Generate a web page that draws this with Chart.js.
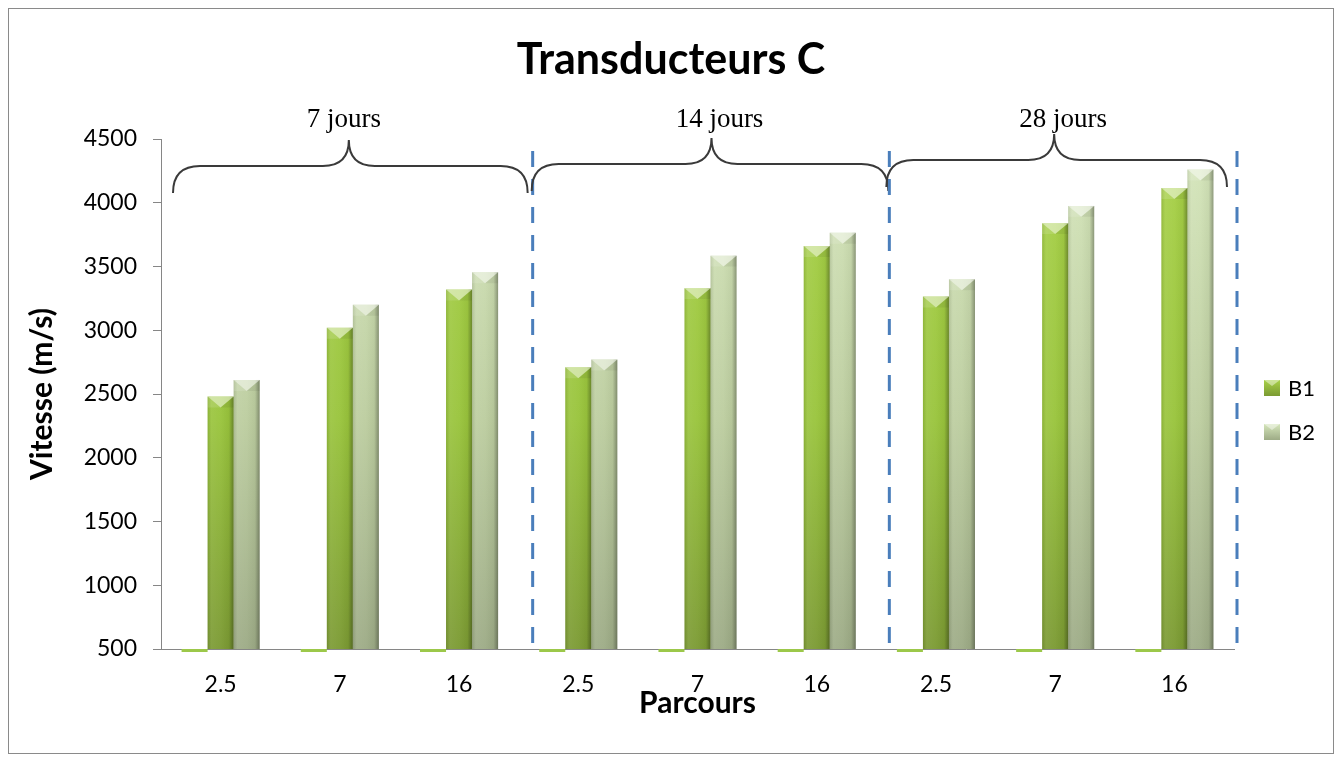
<!DOCTYPE html>
<html><head><meta charset="utf-8">
<script src="https://cdn.jsdelivr.net/npm/chart.js@4.4.1/dist/chart.umd.min.js"></script>
<style>html,body{margin:0;padding:0;background:#fff;}#wrap{position:relative;width:1342px;height:762px;}</style>
</head><body><div id="wrap"><canvas id="c" width="1342" height="762"></canvas></div>
<script>
// ---- data ----
const categories = ['2.5','7','16','2.5','7','16','2.5','7','16'];
const groupLabels = ['7 jours','14 jours','28 jours'];
const chartTitle = 'Transducteurs C';
const seriesNames = ['B1','B2'];
const seriesB1 = [2480,3020,3320,2710,3330,3660,3265,3840,4115];
const seriesB2 = [2610,3200,3455,2770,3585,3765,3400,3975,4260];
const seriesBase = [500,500,500,500,500,500,500,500,500]; // unnamed series sitting at the axis minimum
const yMin = 500, yMax = 4500, yStep = 500;

// ---- styles ----
const FONT = 'Lato, "Open Sans", sans-serif';
const palette = {
  B1: {top:'#a8d148', mid:'#99c43c', bottom:'#7b9a33'},
  B2: {top:'#d5e6bb', mid:'#bccd9f', bottom:'#9dab86'},
  base: '#9cc84a'
};
function vgrad(p){
  return function(ctx){
    const ch = ctx.chart; const a = ch.chartArea;
    if(!a) return p.mid;
    const g = ch.ctx.createLinearGradient(0,a.top,0,a.bottom);
    g.addColorStop(0,p.top); g.addColorStop(0.55,p.mid); g.addColorStop(1,p.bottom);
    return g;
  };
}

const framePlugin = {
  id:'frame',
  beforeDraw(chart){
    const c = chart.ctx; c.save();
    c.fillStyle='#fff'; c.fillRect(0,0,chart.width,chart.height);
    c.strokeStyle='#8a8a8a'; c.lineWidth=1;
    c.strokeRect(8.5,8.5,chart.width-17,chart.height-17);
    c.fillStyle='#000'; c.font='bold 43px '+FONT; c.textAlign='center'; c.textBaseline='alphabetic';
    c.fillText(chartTitle, chart.width/2, 74);
    c.restore();
  }
};

const bevelPlugin = {
  id:'bevel',
  afterDatasetsDraw(chart){
    const c = chart.ctx, a = chart.chartArea;
    [1,2].forEach(di=>{
      const meta = chart.getDatasetMeta(di);
      if(meta.hidden) return;
      meta.data.forEach(bar=>{
        const p = bar.getProps(['x','y','width'],true);
        const x = p.x, y = p.y, width = p.width, base = a.bottom;
        const l = x-width/2, r = x+width/2, h = base-y;
        c.save();
        const g = c.createLinearGradient(l,0,r,0);
        g.addColorStop(0,'rgba(0,0,0,0.10)');
        g.addColorStop(0.15,'rgba(255,255,255,0.08)');
        g.addColorStop(0.5,'rgba(255,255,255,0.04)');
        g.addColorStop(0.82,'rgba(0,0,0,0.04)');
        g.addColorStop(1,'rgba(0,0,0,0.32)');
        c.fillStyle=g; c.fillRect(l,y,width,h);
        const bh = Math.min(width*0.42,h);
        c.beginPath(); c.moveTo(l,y); c.lineTo(r,y); c.lineTo(x,y+bh); c.closePath();
        c.fillStyle='rgba(255,255,255,0.5)'; c.fill();
        c.beginPath(); c.moveTo(l,y); c.lineTo(x,y+bh); c.lineTo(l,y+bh); c.closePath();
        c.fillStyle='rgba(255,255,255,0.12)'; c.fill();
        c.beginPath(); c.moveTo(r,y); c.lineTo(x,y+bh); c.lineTo(r,y+bh); c.closePath();
        c.fillStyle='rgba(0,0,0,0.06)'; c.fill();
        c.restore();
      });
    });
  }
};

function drawBrace(c, x0, x1, xm, yb, rEnd, rMid){
  c.beginPath();
  c.moveTo(x0, yb+rEnd);
  c.quadraticCurveTo(x0, yb, x0+rEnd, yb);
  c.lineTo(xm-rMid, yb);
  c.quadraticCurveTo(xm, yb, xm, yb-rMid);
  c.quadraticCurveTo(xm, yb, xm+rMid, yb);
  c.lineTo(x1-rEnd, yb);
  c.quadraticCurveTo(x1, yb, x1, yb+rEnd);
  c.stroke();
}

const groupPlugin = {
  id:'groups',
  afterDraw(chart){
    const c = chart.ctx, xs = chart.scales.x, a = chart.chartArea;
    const half = (xs.getPixelForValue(1)-xs.getPixelForValue(0))/2;
    const per = categories.length/groupLabels.length;
    // hand-placed annotation offsets (px) relative to each group
    const look = [
      {bl:12, br:9,  pk:9,  yb:166, div:14, tx:4},
      {bl:13, br:12, pk:14, yb:164, div:13, tx:22},
      {bl:10, br:-7, pk:-1, yb:160, div:3,  tx:8}
    ];
    groupLabels.forEach((lab,g)=>{
      const L = xs.getPixelForValue(g*per)-half;
      const R = xs.getPixelForValue(g*per+per-1)+half;
      const C = (L+R)/2, o = look[g];
      c.save();
      c.strokeStyle='#3a3a3a'; c.lineWidth=2;
      drawBrace(c, L+o.bl, R+o.br, C+o.pk, o.yb, 27, 26);
      c.restore();
      c.save();
      c.fillStyle='#000'; c.font='27px "Liberation Serif", "DejaVu Serif", serif';
      c.textAlign='center'; c.textBaseline='alphabetic';
      c.fillText(lab, C+o.tx, 127);
      c.restore();
      c.save();
      c.strokeStyle='#4a7ebb'; c.lineWidth=3; c.setLineDash([16,12]);
      c.beginPath(); c.moveTo(R+o.div, 151); c.lineTo(R+o.div, a.bottom); c.stroke();
      c.restore();
    });
  }
};

const legendPlugin = {
  id:'customLegend',
  afterDraw(chart){
    const c = chart.ctx, a = chart.chartArea;
    const pals = [palette.B1, palette.B2];
    seriesNames.forEach((n,i)=>{
      const yc = 388 + i*44, bx = a.right+30;
      c.save();
      const g = c.createLinearGradient(0,yc-8,0,yc+8);
      g.addColorStop(0,pals[i].top); g.addColorStop(1,pals[i].bottom);
      c.fillStyle=g; c.fillRect(bx,yc-8,16,16);
      c.beginPath(); c.moveTo(bx,yc-8); c.lineTo(bx+16,yc-8); c.lineTo(bx+8,yc-2); c.closePath();
      c.fillStyle='rgba(255,255,255,0.45)'; c.fill();
      c.fillStyle='#000'; c.font='22px '+FONT; c.textAlign='left'; c.textBaseline='middle';
      c.fillText(n, bx+24, yc+1);
      c.restore();
    });
  }
};

const yTickValues = [];
for(let v=yMin; v<=yMax; v+=yStep) yTickValues.push(v);

new Chart(document.getElementById('c'),{
  type:'bar',
  data:{
    labels:categories,
    datasets:[
      {label:'', data:seriesBase, backgroundColor:palette.base, clip:{left:0,top:0,right:0,bottom:3}},
      {label:seriesNames[0], data:seriesB1, backgroundColor:vgrad(palette.B1)},
      {label:seriesNames[1], data:seriesB2, backgroundColor:vgrad(palette.B2)}
    ]
  },
  options:{
    responsive:false, animation:false, devicePixelRatio:1,
    layout:{padding:{left:9, right:108, top:139, bottom:9}},
    datasets:{bar:{categoryPercentage:0.655, barPercentage:1}},
    plugins:{
      legend:{display:false},
      tooltip:{enabled:false},
      title:{display:false}
    },
    scales:{
      x:{
        grid:{display:false, drawTicks:false},
        border:{display:true, color:'#868686', width:1},
        ticks:{color:'#000', font:{family:FONT, size:23}, padding:22, maxRotation:0},
        title:{display:true, text:'Parcours', color:'#000', font:{family:FONT, size:30, weight:'bold'}, padding:{top:0,bottom:32}},
        afterFit(s){ s.height = 104; }
      },
      y:{
        min:yMin, max:yMax,
        afterBuildTicks(s){ s.ticks = yTickValues.map(v=>({value:v})); },
        grid:{drawOnChartArea:false, drawTicks:true, tickLength:8, color:'#868686'},
        border:{display:true, color:'#868686', width:1},
        ticks:{color:'#000', font:{family:FONT, size:23}, padding:16, callback:(v)=>String(v)},
        title:{display:true, text:'Vitesse (m/s)', color:'#000', font:{family:FONT, size:30, weight:'bold'}, padding:{top:15,bottom:0}},
        afterFit(s){ s.width = 152; }
      }
    }
  },
  plugins:[framePlugin, bevelPlugin, groupPlugin, legendPlugin]
});
</script></body></html>
